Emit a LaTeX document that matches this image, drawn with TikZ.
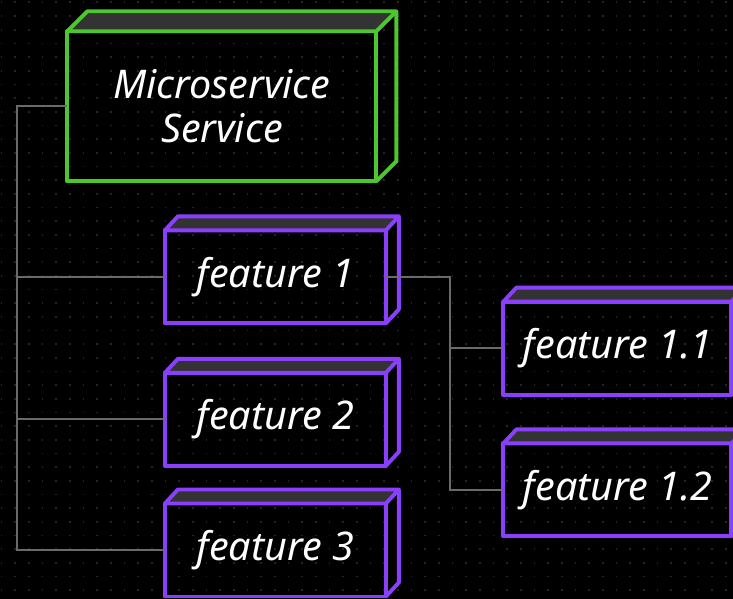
\documentclass[tikz,border=0pt]{standalone}
\usepackage{fontspec}
\setmainfont{Noto Sans}
\usepackage{tikz}
\usetikzlibrary{calc, positioning}
\definecolor{svcGreen}{HTML}{4CC72E}
\definecolor{featPurple}{HTML}{8A3FFC}
\definecolor{topGray}{HTML}{333333}
\definecolor{linkGray}{HTML}{6A6A6A}
\definecolor{dotGray}{HTML}{242424}

\tikzset{
  face/.style={draw=#1, line width=3.9pt, line join=round, outer sep=0pt, inner sep=0pt,
    text=white, align=center, font=\itshape\fontsize{39.5}{44}\selectfont},
  svcbox/.style={face=svcGreen, minimum width=309pt, minimum height=150pt},
  featbox/.style={face=featPurple, minimum width=221pt, minimum height=93pt},
  subbox/.style={face=featPurple, minimum width=228pt, minimum height=93pt},
  link/.style={draw=linkGray, line width=2pt},
}

% top and side faces of a box node: node, dx, dy, colour
\newcommand{\boxdepth}[4]{
  \filldraw[draw=#4, fill=topGray, line width=3.9pt, line join=round]
    (#1.north west) -- ++(#2,-#3) -- ($(#1.north east)+(#2,-#3)$) -- (#1.north east) -- cycle;
  \draw[draw=#4, line width=3.9pt, line join=round]
    ($(#1.north east)+(#2,-#3)$) -- ($(#1.south east)+(#2,-#3)$) -- (#1.south east);
}

\begin{document}
\begin{tikzpicture}[x=1pt, y=-1pt]
    \useasboundingbox (0,0) rectangle (733,599);
    \clip (0,0) rectangle (733,599);
    \fill[black] (0,0) rectangle (733,599);

    % dotted backdrop
    \foreach \i in {0,...,53}
        \foreach \j in {0,...,43}
            \fill[dotGray] (0.5+13.67*\i, 1.5+13.67*\j) rectangle ++(1.8,1.8);

    % boxes
    \node[svcbox] (svc) at (221.9,106.3) {Microservice\\Service};
    \node[featbox] (f1) at (275.4,276.8) {feature 1};
    \node[featbox] (f2) at (275.4,419.3) {feature 2};
    \node[featbox] (f3) at (275.4,550) {feature 3};
    \node[subbox] (f11) at (617.4,348.1) {feature 1.1};
    \node[subbox] (f12) at (617.4,489.9) {feature 1.2};

    \boxdepth{svc}{20}{20}{svcGreen}
    \boxdepth{f1}{13}{14}{featPurple}
    \boxdepth{f2}{13}{14}{featPurple}
    \boxdepth{f3}{13}{14}{featPurple}
    \boxdepth{f11}{13}{14}{featPurple}
    \boxdepth{f12}{13}{14}{featPurple}

    % connectors
    \coordinate (trunk) at (16.7,0);
    \coordinate (branch) at (450,0);
    \draw[link] (svc.west) -- (trunk |- svc.west) |- (f3.west);
    \draw[link] (trunk |- f1.west) -- (f1.west);
    \draw[link] (trunk |- f2.west) -- (f2.west);
    \draw[link] (f1.east) -- (branch |- f1.east) |- (f12.west);
    \draw[link] (branch |- f11.west) -- (f11.west);
\end{tikzpicture}
\end{document}
